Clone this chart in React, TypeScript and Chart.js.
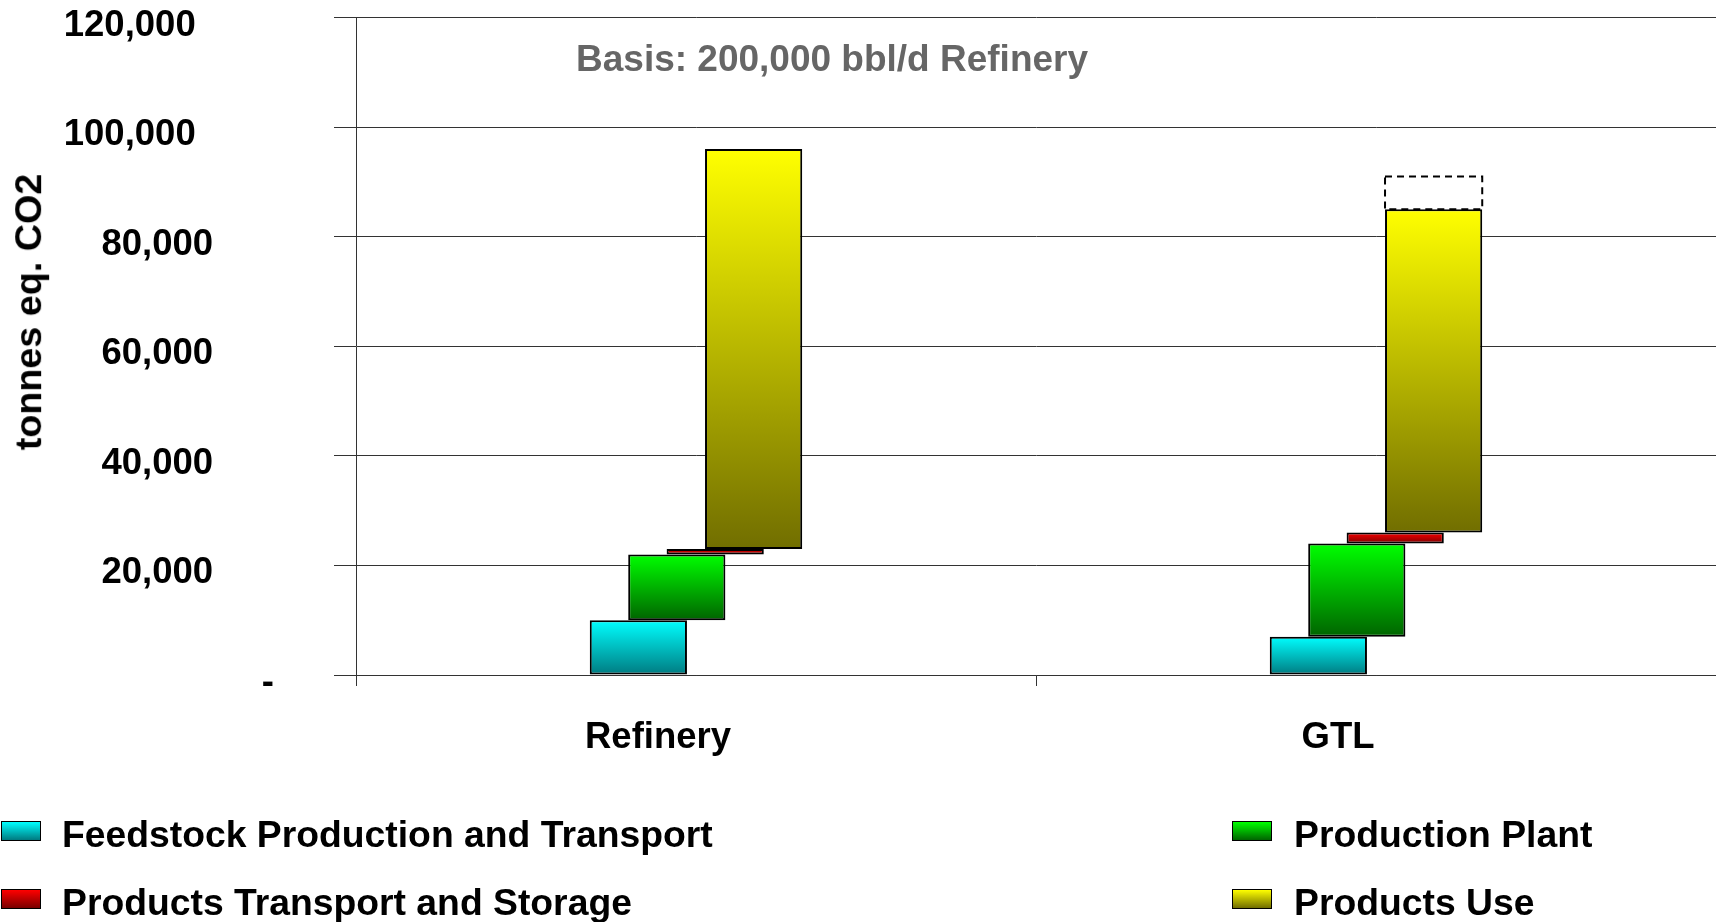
import React, { useEffect, useRef } from 'react';
import { Chart, registerables } from 'chart.js';

Chart.register(...registerables);

// ---- Data ----
const categories = ['Refinery', 'GTL'];
const feedstockRange: [number, number][] = [[0, 10000], [0, 7000]];
const plantRange: [number, number][] = [[10000, 22000], [7000, 24000]];
const transportRange: [number, number][] = [[22000, 23000], [24000, 26000]];
const useRange: [number, number][] = [[23000, 96000], [26000, 85000]];
const extraRange: ([number, number] | null)[] = [null, [85000, 91000]];
const seriesNames = [
  'Feedstock Production and Transport',
  'Production Plant',
  'Products Transport and Storage',
  'Products Use',
];
const titleText = 'Basis: 200,000 bbl/d Refinery';
const yAxisTitle = 'tonnes eq. CO2';
const yMin = 0;
const yMax = 120000;
const yStep = 20000;

// ---- Styles ----
const FONT = "'Liberation Sans', Arial, Helvetica, sans-serif";
const FS = 36.5;
const colorPairs: [string, string][] = [
  ['#00FFFF', '#007A80'],
  ['#00FF00', '#006400'],
  ['#FF0000', '#7A0000'],
  ['#FFFF00', '#716E00'],
];

const gradientFor = (top: string, bottom: string) => (ctx: any) => {
  const chart = ctx.chart;
  const y = chart.scales && chart.scales.y;
  const raw = ctx.raw;
  if (!y || !Array.isArray(raw)) return top;
  const p1 = y.getPixelForValue(raw[1]);
  const p0 = y.getPixelForValue(raw[0]);
  if (!isFinite(p1) || !isFinite(p0) || p1 === p0) return top;
  const g = chart.ctx.createLinearGradient(0, p1, 0, p0);
  g.addColorStop(0, top);
  g.addColorStop(1, bottom);
  return g;
};

const dashedPlugin = {
  id: 'dashedOutline',
  afterDatasetsDraw(chart: any) {
    const idx = chart.data.datasets.findIndex((d: any) => d._dashed);
    if (idx < 0) return;
    const meta = chart.getDatasetMeta(idx);
    const ctx = chart.ctx;
    meta.data.forEach((el: any, i: number) => {
      if (!extraRange[i]) return;
      const { x, y, base, width } = el.getProps(['x', 'y', 'base', 'width'], true);
      ctx.save();
      ctx.setLineDash([7, 5]);
      ctx.lineWidth = 2;
      ctx.strokeStyle = '#000';
      ctx.strokeRect(x - width / 2, y, width, base - y);
      ctx.restore();
    });
  },
};

export default function App() {
  const canvasRef = useRef<HTMLCanvasElement | null>(null);

  useEffect(() => {
    if (!canvasRef.current) return;
    const ranges = [feedstockRange, plantRange, transportRange, useRange];
    const stacks = ['a', 'b', 'c', 'd'];
    const datasets: any[] = ranges.map((r, i) => ({
      label: seriesNames[i],
      data: r,
      stack: stacks[i],
      backgroundColor: gradientFor(colorPairs[i][0], colorPairs[i][1]),
      borderColor: '#000',
      borderWidth: 2,
      borderSkipped: false,
    }));
    datasets.push({
      label: 'extra',
      _dashed: true,
      data: extraRange,
      stack: 'd',
      backgroundColor: 'rgba(0,0,0,0)',
      borderColor: 'rgba(0,0,0,0)',
      borderWidth: 0,
      borderSkipped: false,
    });

    const chart = new Chart(canvasRef.current, {
      type: 'bar',
      data: { labels: categories, datasets },
      plugins: [dashedPlugin],
      options: {
        responsive: false,
        animation: false,
        datasets: {
          bar: { categoryPercentage: 0.226, barPercentage: 2.53 },
        },
        layout: { padding: { top: 17.5, left: 0, right: 0, bottom: 0 } },
        plugins: {
          legend: { display: false },
          tooltip: { enabled: false },
          title: { display: false },
        },
        scales: {
          x: {
            grid: {
              offset: true,
              drawOnChartArea: false,
              drawTicks: true,
              tickLength: 11,
              color: '#333',
            },
            border: { color: '#333', width: 1 },
            ticks: {
              color: '#000',
              font: { family: FONT, size: FS, weight: 'bold' },
              padding: 30,
              labelOffset: -38,
              maxRotation: 0,
            },
            afterFit: (s: any) => {
              s.height = 247;
              s.paddingLeft = 0;
              s.paddingRight = 0;
            },
          },
          y: {
            min: yMin,
            max: yMax,
            stacked: false,
            grid: { color: '#333', tickLength: 22, lineWidth: 1 },
            border: { color: '#333', width: 1 },
            ticks: {
              stepSize: yStep,
              color: '#000',
              font: { family: FONT, size: FS, weight: 'bold' },
              padding: 60,
              labelOffset: 8,
              callback: (v: any) => {
                const n = Number(v);
                if (n === 0) return '-';
                return (
                  n.toLocaleString('en-US') +
                  (n >= 100000 ? ' '.repeat(7) + '\u2009' : ' '.repeat(6))
                );
              },
            },
            afterFit: (s: any) => {
              s.width = 356;
              s.paddingTop = 0;
              s.paddingBottom = 0;
            },
          },
        },
      } as any,
    });
    return () => chart.destroy();
  }, []);

  const textStyle: React.CSSProperties = {
    position: 'absolute',
    fontFamily: FONT,
    fontWeight: 'bold',
    fontSize: 37.3,
    lineHeight: 1,
    whiteSpace: 'nowrap',
    color: '#000',
  };

  const legendItems = [
    { i: 0, mx: 1, tx: 62, my: 821, ty: 816 },
    { i: 1, mx: 1232, tx: 1294, my: 821, ty: 816 },
    { i: 2, mx: 1, tx: 62, my: 889, ty: 884 },
    { i: 3, mx: 1232, tx: 1294, my: 889, ty: 884 },
  ];

  return (
    <div
      style={{
        position: 'fixed',
        left: 0,
        top: 0,
        width: 1716,
        height: 922,
        background: '#fff',
        overflow: 'hidden',
      }}
    >
      <canvas
        ref={canvasRef}
        width={1716}
        height={922}
        style={{ position: 'absolute', left: 0, top: 0, width: 1716, height: 922 }}
      />
      <div style={{ ...textStyle, fontSize: 37, left: 576, top: 40, color: '#666' }}>{titleText}</div>
      <div
        style={{
          ...textStyle,
          fontSize: 37.7,
          left: 28.5,
          top: 312,
          transform: 'translate(-50%, -50%) rotate(-90deg)',
        }}
      >
        {yAxisTitle}
      </div>
      {legendItems.map((it) => (
        <React.Fragment key={it.i}>
          <div
            style={{
              position: 'absolute',
              left: it.mx,
              top: it.my,
              width: 38,
              height: 18,
              border: '1px solid #000',
              background: `linear-gradient(to bottom, ${colorPairs[it.i][0]}, ${colorPairs[it.i][1]})`,
            }}
          />
          <div style={{ ...textStyle, left: it.tx, top: it.ty }}>{seriesNames[it.i]}</div>
        </React.Fragment>
      ))}
    </div>
  );
}
